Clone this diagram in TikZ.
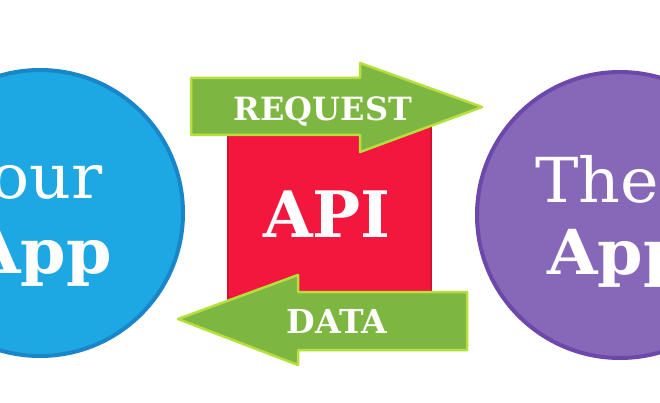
\documentclass[tikz,border=0pt]{standalone}
\usepackage{fontspec}
\setmainfont{DejaVu Serif}
\newfontfamily\circlefont[FakeStretch=1.05]{DejaVu Serif}

\definecolor{yourblue}{HTML}{1EA8E3}
\definecolor{yourblueedge}{HTML}{1A86CA}
\definecolor{theirpurple}{HTML}{8667B8}
\definecolor{theirpurpleedge}{HTML}{6B48AA}
\definecolor{apired}{HTML}{F3163D}
\definecolor{apirededge}{HTML}{D8102B}
\definecolor{flowgreen}{HTML}{7DB742}
\definecolor{flowglow}{HTML}{B6DE3C}

\begin{document}
\begin{tikzpicture}[
  x=1pt,
  y=-1pt,
  app circle/.style={
    circle,
    line width=4pt,
    minimum size=286pt,
    inner sep=0pt
  },
  api box/.style={
    draw=apirededge,
    fill=apired,
    line width=2pt,
    minimum width=203pt,
    minimum height=200pt,
    inner sep=0pt
  },
  flow arrow/.style={
    fill=flowgreen,
    draw=flowglow,
    line width=2.5pt,
    line join=round
  },
  app word/.style={text=white, anchor=base, inner sep=0pt, font=\circlefont\fontsize{62}{62}\selectfont},
  app bold/.style={app word, font=\circlefont\bfseries\fontsize{62}{62}\selectfont},
  flow word/.style={text=white, anchor=base, inner sep=0pt, font=\bfseries\fontsize{33}{33}\selectfont}
]
  \useasboundingbox (0,0) rectangle (660,403);
  \clip (0,0) rectangle (660,403);

  % the two apps
  \node[app circle, draw=yourblueedge, fill=yourblue] (yourapp) at (40,213) {};
  \node[app circle, draw=theirpurpleedge, fill=theirpurple] (theirapp) at (620,215) {};

  % api in the middle
  \node[api box] (api) at (329.5,213) {};

  % request and data arrows
  \draw[flow arrow] (191,78) -- (360,78) -- (360,63) -- (482,107)
    -- (360,152) -- (360,135) -- (191,135) -- cycle;
  \draw[flow arrow] (467,292) -- (298,292) -- (298,275) -- (178,319)
    -- (298,365) -- (298,350) -- (467,350) -- cycle;

  % labels
  \node[app word] (yourword) at (28,199) {Your};
  \node[app bold] (yourapplabel) at (41,273) {App};
  \node[app word] (theirword) at (623,203) {Their};
  \node[app bold] (theirapplabel) at (618,274) {App};
  \node[app bold, font=\bfseries\fontsize{64}{64}\selectfont] (apilabel) at (327,237) {API};
  \node[flow word, font=\bfseries\fontsize{32}{32}\selectfont] (requestlabel) at (323,121) {REQUEST};
  \node[flow word] (datalabel) at (337,333) {DATA};
\end{tikzpicture}
\end{document}
